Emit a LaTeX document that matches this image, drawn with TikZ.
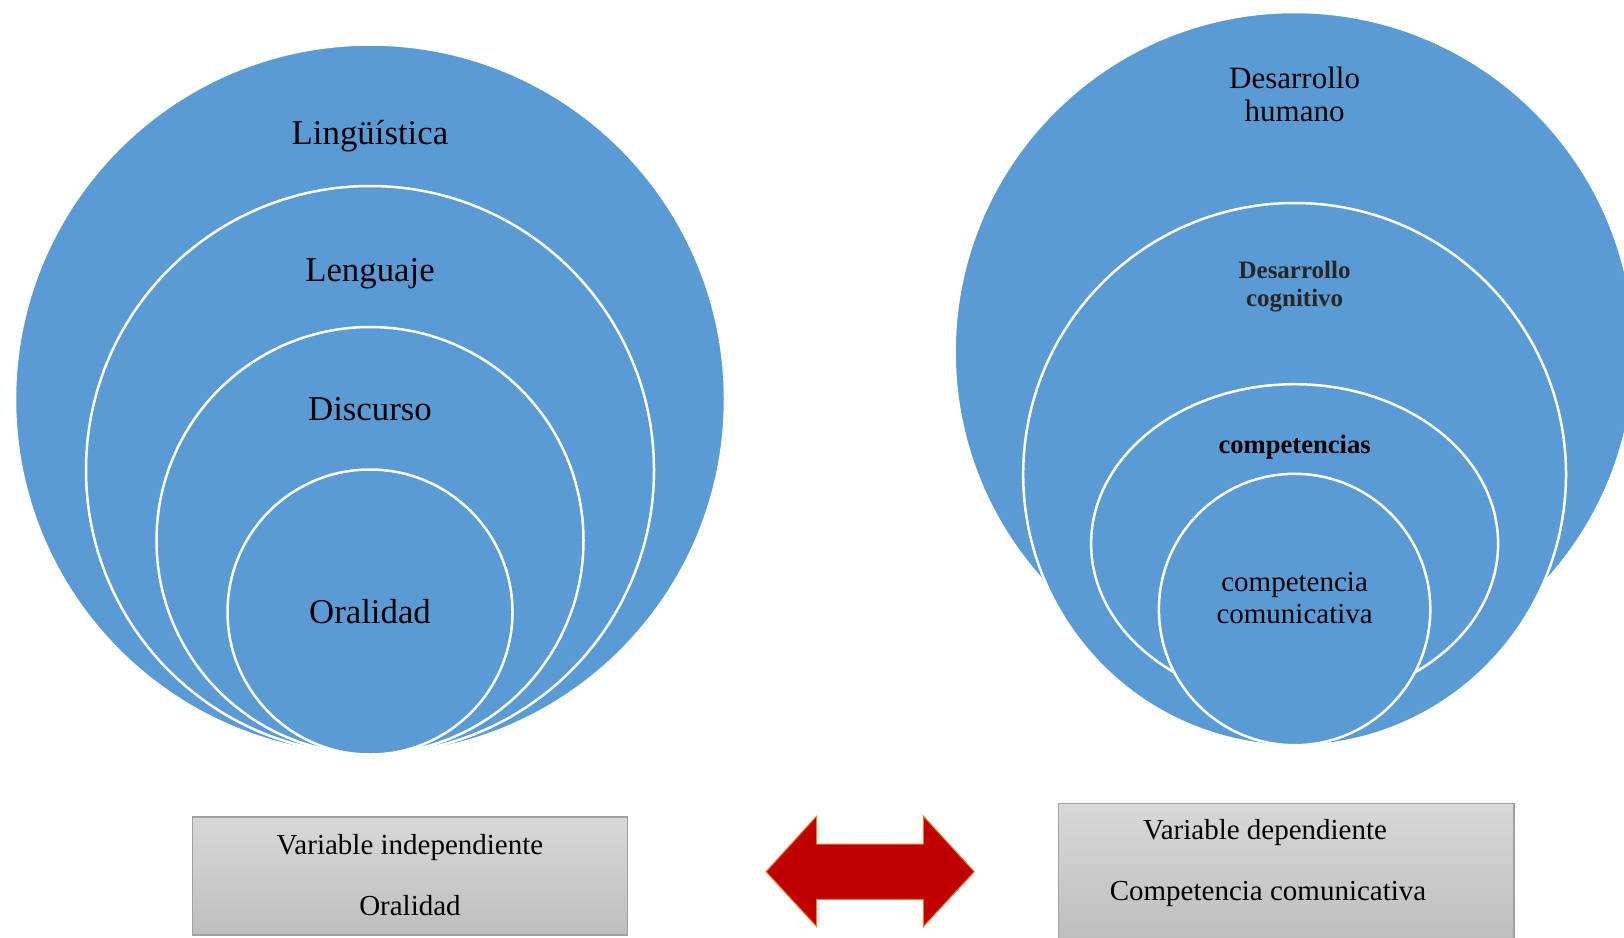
\documentclass[tikz,border=0pt]{standalone}
\usepackage{fontspec}
\setmainfont{Liberation Serif}
\definecolor{vblue}{RGB}{91,155,213}
\definecolor{arrowred}{RGB}{192,0,0}
\definecolor{arroworange}{RGB}{237,125,49}
\definecolor{boxtop}{RGB}{216,216,216}
\definecolor{boxbot}{RGB}{190,190,190}
\definecolor{boxline}{RGB}{160,160,160}
\definecolor{darktext}{RGB}{38,38,38}
\begin{document}
\begin{tikzpicture}[x=1pt,y=-1pt,
  venn/.style={fill=vblue,draw=white,line width=2.5pt},
  biglbl/.style={font=\fontsize{34.8}{38}\selectfont,align=center,inner sep=0pt},
  vbox/.style={draw=boxline,line width=1.5pt,top color=boxtop,bottom color=boxbot,inner sep=0pt},
  boxtxt/.style={font=\fontsize{29}{32}\selectfont,inner sep=0pt}]
\clip (0,0) rectangle (1624,937);
\fill[white] (0,0) rectangle (1624,937);
% left stacked circles
\path[venn] (370,399.5) circle[radius=355];
\path[venn] (370,470) circle[radius=284];
\path[venn] (370,540.5) circle[radius=213.5];
\path[venn] (370,612) circle[radius=142.5];
\node[biglbl] (ling) at (370,136) {Lingüística};
\node[biglbl] (leng) at (370,274) {Lenguaje};
\node[biglbl] (disc) at (370,409.5) {Discurso};
\node[biglbl] (oral) at (370,612) {Oralidad};
% right stacked circles
\path[venn] (1294.6,352) circle[radius=340];
\path[venn] (1294.6,474.4) circle[radius=271.4];
\path[venn] (1294.6,543.7) ellipse[x radius=203.5,y radius=159.5];
\path[venn] (1294.6,609.5) circle[radius=135.7];
\node[font=\fontsize{31}{33}\selectfont,align=center,inner sep=0pt] (dh) at (1294.6,94) {Desarrollo\\humano};
\node[font=\bfseries\fontsize{25}{28}\selectfont,text=darktext,align=center,inner sep=0pt] (dc) at (1294.6,287) {Desarrollo\\cognitivo};
\node[font=\bfseries\fontsize{26.6}{30}\selectfont,inner sep=0pt] (comp) at (1294.6,447) {competencias};
\node[font=\fontsize{29}{32}\selectfont,align=center,inner sep=0pt] (cc) at (1294.6,598) {competencia\\comunicativa};
% boxes
\node[vbox,minimum width=435pt,minimum height=118pt] (lbox) at (410.1,876) {};
\node[boxtxt] (lt1) at (410,848) {Variable independiente};
\node[boxtxt] (lt2) at (410,906) {Oralidad};
\node[vbox,minimum width=455.5pt,minimum height=136.5pt] (rbox) at (1286.25,871.75) {};
\node[boxtxt] (rt1) at (1265,833) {Variable dependiente};
\node[boxtxt] (rt2) at (1268,894) {Competencia comunicativa};
% double arrow
\draw[fill=arrowred,draw=arroworange,line width=1pt] (766,871.7) -- (816.7,816) -- (816.7,844) -- (923.3,844) -- (923.3,816) -- (974.3,871.7) -- (923.3,926.7) -- (923.3,899.3) -- (816.7,899.3) -- (816.7,926.7) -- cycle;
\end{tikzpicture}
\end{document}
